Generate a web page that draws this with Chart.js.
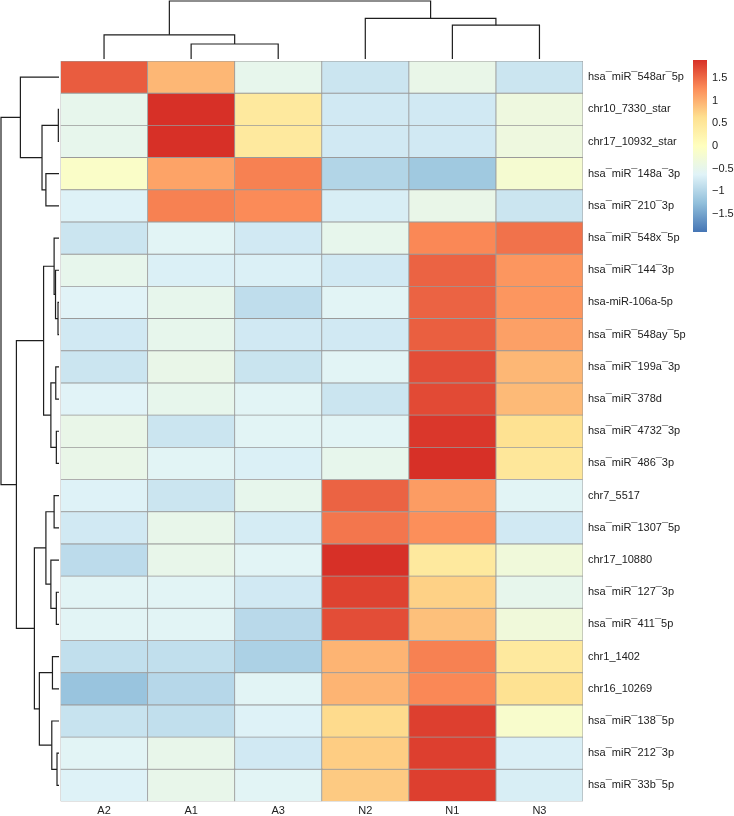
<!DOCTYPE html>
<html>
<head>
<meta charset="utf-8">
<title>miRNA heatmap</title>
<script src="https://cdn.jsdelivr.net/npm/chart.js@4.4.1/dist/chart.umd.min.js"></script>
<style>
  body{ margin:0; background:#fff; }
  #wrap{ position:relative; width:734px; height:816px; }
  #wrap canvas{ position:absolute; left:0; top:0; }
</style>
</head>
<body>
<div id="wrap">
  <canvas id="heat" width="734" height="816"></canvas>
  <canvas id="scaleBar" width="734" height="816"></canvas>
</div>
<script>

// ============================
// DATA
// ============================

const colLabels = ["A2","A1","A3","N2","N1","N3"];

const rowLabels = [
  "hsa¯miR¯548ar¯5p",
  "chr10_7330_star",
  "chr17_10932_star",
  "hsa¯miR¯148a¯3p",
  "hsa¯miR¯210¯3p",
  "hsa¯miR¯548x¯5p",
  "hsa¯miR¯144¯3p",
  "hsa-miR-106a-5p",
  "hsa¯miR¯548ay¯5p",
  "hsa¯miR¯199a¯3p",
  "hsa¯miR¯378d",
  "hsa¯miR¯4732¯3p",
  "hsa¯miR¯486¯3p",
  "chr7_5517",
  "hsa¯miR¯1307¯5p",
  "chr17_10880",
  "hsa¯miR¯127¯3p",
  "hsa¯miR¯411¯5p",
  "chr1_1402",
  "chr16_10269",
  "hsa¯miR¯138¯5p",
  "hsa¯miR¯212¯3p",
  "hsa¯miR¯33b¯5p"
];

// row z-scores, one array per sample, rows in display order
const valA2 = [1.6,-0.5,-0.5,-0.1,-0.65,-0.8,-0.5,-0.62,-0.75,-0.8,-0.62,-0.45,-0.45,-0.65,-0.75,-0.92,-0.6,-0.6,-0.88,-1.2,-0.83,-0.6,-0.65];
const valA1 = [0.95,1.95,1.95,1.1,1.35,-0.6,-0.67,-0.5,-0.5,-0.45,-0.5,-0.8,-0.6,-0.8,-0.48,-0.48,-0.6,-0.6,-0.88,-0.97,-0.88,-0.48,-0.48];
const valA3 = [-0.5,0.45,0.45,1.35,1.28,-0.75,-0.67,-0.9,-0.75,-0.82,-0.6,-0.6,-0.67,-0.5,-0.72,-0.6,-0.75,-0.95,-1.05,-0.6,-0.65,-0.75,-0.6];
const valN2 = [-0.8,-0.75,-0.75,-1.0,-0.7,-0.5,-0.75,-0.6,-0.75,-0.6,-0.8,-0.6,-0.5,1.55,1.42,1.95,1.78,1.7,0.97,0.97,0.67,0.78,0.8];
const valN1 = [-0.45,-0.75,-0.75,-1.15,-0.45,1.3,1.55,1.55,1.58,1.7,1.72,1.85,1.95,1.15,1.25,0.45,0.75,0.88,1.35,1.3,1.8,1.8,1.8];
const valN3 = [-0.8,-0.35,-0.35,-0.2,-0.8,1.45,1.2,1.2,1.12,0.95,0.92,0.6,0.5,-0.6,-0.75,-0.3,-0.5,-0.3,0.45,0.6,-0.15,-0.68,-0.7];

const colValues = [valA2, valA1, valA3, valN2, valN1, valN3];

// hclust style merges: negative = leaf (1-based display position), positive = earlier step
const rowMerge = [
  [-2,-3],[-8,-9],[-22,-23],[-12,-13],[-17,-18],[-10,-11],[-7,2],[-6,7],
  [-14,-15],[-19,-20],[-21,3],[6,4],[-16,5],[-4,-5],[9,13],[8,12],
  [1,14],[10,11],[15,18],[-1,17],[16,19],[20,21]
];
const rowHeight = [0.08,0.12,0.24,0.32,0.32,0.39,0.42,0.59,0.59,0.79,0.87,0.98,0.98,1.58,1.58,1.86,2.05,2.37,2.97,4.66,5.14,7.0];

const colMerge = [[-2,-3],[-1,1],[-5,-6],[-4,3],[2,4]];
const colHeight = [2.07,3.33,4.67,5.6,8.0];

const legendTicks = [-1.5,-1,-0.5,0,0.5,1,1.5];
const colorMin = -1.9;
const colorMax = 1.9;
const palette = ["#4575B4","#91BFDB","#E0F3F8","#FFFFBF","#FEE090","#FC8D59","#D73027"];


// ============================
// HELPERS
// ============================

const FONT = "'Liberation Sans', Arial, sans-serif";
const TEXT = "#222";
Chart.defaults.font.family = FONT;

function hexToRgb(h){
  return [parseInt(h.slice(1,3),16), parseInt(h.slice(3,5),16), parseInt(h.slice(5,7),16)];
}

function colorFor(v){
  let t = (v - colorMin) / (colorMax - colorMin);
  t = Math.max(0, Math.min(1, t));
  const seg = t * (palette.length - 1);
  const i = Math.min(palette.length - 2, Math.floor(seg));
  const f = seg - i;
  const a = hexToRgb(palette[i]);
  const b = hexToRgb(palette[i+1]);
  const c = a.map((x,k)=>Math.round(x + (b[k]-x)*f));
  return `rgb(${c[0]},${c[1]},${c[2]})`;
}

// draws one dendrogram, leafPos gives pixel of leaf, toXY maps (pos,height) to canvas
function drawTree(ctx, merge, heights, leafPos, toXY){
  const pos = [];
  const get = k => k < 0 ? [leafPos(-k - 1), 0] : [pos[k-1], heights[k-1]];

  merge.forEach((m,i)=>{
    const [p1,h1] = get(m[0]);
    const [p2,h2] = get(m[1]);
    const h = heights[i];
    pos[i] = (p1 + p2) / 2;

    const pts = [toXY(p1,h1), toXY(p1,h), toXY(p2,h), toXY(p2,h2)];
    ctx.beginPath();
    ctx.moveTo(pts[0][0], pts[0][1]);
    for(let k=1;k<pts.length;k++) ctx.lineTo(pts[k][0], pts[k][1]);
    ctx.stroke();
  });
}

const dendroPlugin = {
  id: "dendro",
  afterDraw(chart){
    const {ctx, chartArea, scales} = chart;
    ctx.save();
    ctx.strokeStyle = "#1e1e1e";
    ctx.lineWidth = 1.2;
    ctx.lineJoin = "miter";

    // rows (left)
    const leafX = chartArea.left - 1.5;
    const kx = (leafX - 1) / Math.max(...rowHeight);
    drawTree(ctx, rowMerge, rowHeight,
      i => scales.y.getPixelForValue(i),
      (p,h) => [leafX - h*kx, p]);

    // columns (top)
    const leafY = chartArea.top - 2;
    const ky = (leafY - 1) / Math.max(...colHeight);
    drawTree(ctx, colMerge, colHeight,
      j => scales.x.getPixelForValue(j + 0.5),
      (p,h) => [p, leafY - h*ky]);

    ctx.restore();
  }
};


// ============================
// HEATMAP
// ============================

const datasets = colLabels.map((name,j)=>({
  label: name,
  data: rowLabels.map(()=>1),
  backgroundColor: colValues[j].map(colorFor),
  borderColor: "#9a9a9a",
  borderWidth: 0.8,
  borderSkipped: false,
  categoryPercentage: 1,
  barPercentage: 1,
  stack: "cells"
}));

new Chart(document.getElementById("heat"),{
  type: "bar",
  data: { labels: rowLabels, datasets: datasets },
  options: {
    indexAxis: "y",
    responsive: false,
    animation: false,
    events: [],
    layout: { padding: { left: 60.5, top: 61, right: 0, bottom: 0 } },
    plugins: {
      legend: { display: false },
      tooltip: { enabled: false }
    },
    scales: {
      x: {
        type: "linear",
        stacked: true,
        min: 0,
        max: colLabels.length,
        position: "bottom",
        grid: { display: false, drawTicks: false },
        border: { display: false },
        afterBuildTicks: s => { s.ticks = colLabels.map((_,i)=>({value: i + 0.5})); },
        afterFit: s => { s.height = 14.5; },
        ticks: {
          autoSkip: false,
          maxRotation: 0,
          padding: 3,
          color: TEXT,
          font: { size: 11, family: FONT },
          callback: (v,i) => colLabels[i]
        }
      },
      y: {
        type: "category",
        stacked: true,
        position: "right",
        grid: { display: false, drawTicks: false },
        border: { display: false },
        afterFit: s => { s.width = 151; },
        ticks: {
          autoSkip: false,
          padding: 5,
          color: TEXT,
          font: { size: 11, family: FONT }
        }
      }
    }
  },
  plugins: [dendroPlugin]
});


// ============================
// COLOUR KEY
// ============================

new Chart(document.getElementById("scaleBar"),{
  type: "bar",
  data: {
    labels: [""],
    datasets: [{
      data: [[colorMin, colorMax]],
      backgroundColor: c => {
        const {chart} = c;
        const area = chart.chartArea;
        if(!area) return palette[3];
        const y = chart.scales.y;
        const g = chart.ctx.createLinearGradient(0, y.getPixelForValue(colorMin), 0, y.getPixelForValue(colorMax));
        palette.forEach((col,i)=>g.addColorStop(i/(palette.length-1), col));
        return g;
      },
      borderWidth: 0,
      categoryPercentage: 1,
      barPercentage: 1
    }]
  },
  options: {
    responsive: false,
    animation: false,
    events: [],
    layout: { padding: { left: 693, top: 60, right: 0, bottom: 584 } },
    plugins: {
      legend: { display: false },
      tooltip: { enabled: false }
    },
    scales: {
      x: { display: false },
      y: {
        min: colorMin,
        max: colorMax,
        position: "right",
        grid: { display: false, drawTicks: false },
        border: { display: false },
        afterBuildTicks: s => { s.ticks = legendTicks.map(v=>({value: v})); },
        afterFit: s => { s.width = 27; },
        ticks: {
          padding: 5,
          color: TEXT,
          font: { size: 11, family: FONT },
          callback: v => String(v).replace("-", "\u2212")
        }
      }
    }
  }
});

</script>
</body>
</html>
